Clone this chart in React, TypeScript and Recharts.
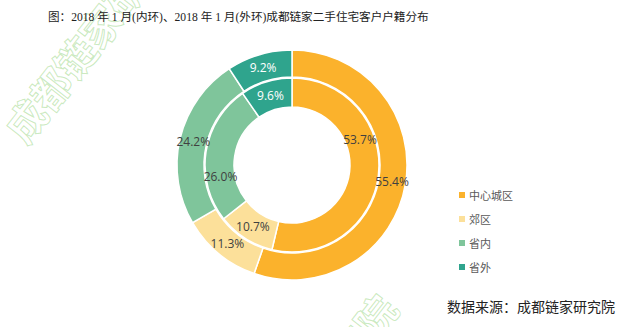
import React from 'react';
import { PieChart, Pie, Cell } from 'recharts';

const CATEGORIES = ['中心城区', '郊区', '省内', '省外'];
const INNER_VALUES = [53.7, 10.7, 26.0, 9.6]; // 内环
const OUTER_VALUES = [55.4, 11.3, 24.2, 9.2]; // 外环
const COLORS = ['#FBB22C', '#FCE09A', '#7FC59B', '#2FA48D'];
const LABEL_COLORS = ['#404040', '#404040', '#404040', '#ffffff'];

const innerData = CATEGORIES.map((name, i) => ({ name, value: INNER_VALUES[i] }));
const outerData = CATEGORIES.map((name, i) => ({ name, value: OUTER_VALUES[i] }));

const RAD = Math.PI / 180;

// the source nudged two of the inner labels along the ring
const INNER_LABEL_SHIFT = [27, 0, 18, 0];

const makeLabel = (shift: number[]) => (props: any) => {
  const { cx, cy, midAngle, innerRadius, outerRadius, value, index } = props;
  const r = (innerRadius + outerRadius) / 2;
  const a = midAngle + (shift[index] || 0);
  const x = cx + r * Math.cos(-a * RAD);
  const y = cy + r * Math.sin(-a * RAD);
  return (
    <text x={x} y={y} fill={LABEL_COLORS[index]} textAnchor="middle" dominantBaseline="central"
      style={{ fontSize: 12, fontFamily: '"Open Sans", "Noto Sans", sans-serif' }}>
      {value.toFixed(1)}%
    </text>
  );
};

const watermark: React.CSSProperties = {
  position: 'absolute',
  fontSize: 40,
  fontFamily: '"Noto Sans CJK SC", sans-serif',
  fontWeight: 700,
  color: 'transparent',
  WebkitTextStroke: '1px rgba(120,200,90,0.4)',
  whiteSpace: 'nowrap',
  transformOrigin: '0 0',
};

export default function App() {
  return (
    <div style={{ position: 'absolute', left: 0, top: 0, width: 640, height: 327, background: '#fff', overflow: 'hidden' }}>
      <div style={{ ...watermark, left: -10, top: 118, transform: 'rotate(-52deg)' }}>成都链家研究院</div>
      <div style={{ ...watermark, left: 315, top: 345, transform: 'rotate(-52deg)' }}>究院</div>
      <div style={{ position: 'absolute', left: 48, top: 8, fontSize: 11.6, color: '#222',
        fontFamily: '"Liberation Serif", "DejaVu Serif", "Noto Sans CJK SC", serif', whiteSpace: 'nowrap' }}>
        图：2018 年 1 月(内环)、2018 年 1 月(外环)成都链家二手住宅客户户籍分布
      </div>
      <div style={{ position: 'absolute', left: 447, top: 296, fontSize: 14, color: '#222',
        fontFamily: '"Liberation Serif", "Noto Sans CJK SC", serif', whiteSpace: 'nowrap' }}>
        数据来源：成都链家研究院
      </div>
      <div style={{ position: 'absolute', left: 459, top: 183, fontFamily: '"Noto Sans CJK SC", sans-serif',
        fontSize: 11, color: '#595959' }}>
        {CATEGORIES.map((c, i) => (
          <div key={c} style={{ display: 'flex', alignItems: 'center', height: 24 }}>
            <span style={{ width: 6, height: 6, background: COLORS[i], marginRight: 4, display: 'inline-block' }} />
            {c}
          </div>
        ))}
      </div>
      <PieChart width={640} height={327} margin={{ top: 0, right: 0, bottom: 0, left: 0 }}
        style={{ position: 'absolute', left: 0, top: 0 }}>
        <Pie data={innerData} dataKey="value" nameKey="name" cx={292} cy={165}
          innerRadius={58} outerRadius={87} startAngle={90} endAngle={-270}
          stroke="#fff" strokeWidth={1.5} label={makeLabel(INNER_LABEL_SHIFT)} labelLine={false} isAnimationActive={false}>
          {innerData.map((_, i) => <Cell key={`in-${i}`} fill={COLORS[i]} />)}
        </Pie>
        <Pie data={outerData} dataKey="value" nameKey="name" cx={292} cy={165}
          innerRadius={88} outerRadius={115} startAngle={90} endAngle={-270}
          stroke="#fff" strokeWidth={1.5} label={makeLabel([0, 0, 0, 0])} labelLine={false} isAnimationActive={false}>
          {outerData.map((_, i) => <Cell key={`out-${i}`} fill={COLORS[i]} />)}
        </Pie>
      </PieChart>
    </div>
  );
}
